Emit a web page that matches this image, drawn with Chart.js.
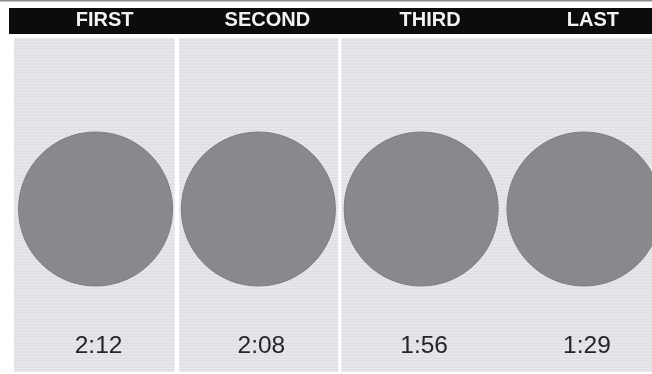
<!DOCTYPE html>
<html><head><meta charset="utf-8">
<script src="https://cdn.jsdelivr.net/npm/chart.js@4"></script>
<style>html,body{margin:0;padding:0;background:#fff}#wrap{width:652px;height:374px;position:relative}</style>
</head><body><div id="wrap"><canvas id="c" width="652" height="374"></canvas></div>
<script>
// Data
const categories = ['FIRST', 'SECOND', 'THIRD', 'LAST'];
const times = ['2:12', '2:08', '1:56', '1:29'];
const seconds = [132, 128, 116, 89];
// panel dividers sit between these category pairs
const dividers = [0.5, 1.5];

const FONT = '"Liberation Sans", Arial, sans-serif';

const decor = {
  id: 'decor',
  beforeDraw(chart) {
    const ctx = chart.ctx, x = chart.scales.x, W = chart.width, H = chart.height;
    ctx.save();
    ctx.fillStyle = '#ffffff';
    ctx.fillRect(0, 0, W, H);
    // top thin grey rule
    ctx.fillStyle = '#8c8c8c';
    ctx.fillRect(0, 0, W, 1.5);
    // black header bar
    ctx.fillStyle = '#0c0c0c';
    ctx.fillRect(9, 8, W - 9, 26);
    // panel background
    ctx.fillStyle = '#e1e0e7';
    ctx.fillRect(14, 38, W - 14, 334);
    // faint horizontal texture
    ctx.fillStyle = 'rgba(255,255,255,0.25)';
    for (let yy = 38; yy < 372; yy += 3) ctx.fillRect(14, yy, W - 14, 1);
    // white gaps between panels
    ctx.fillStyle = '#ffffff';
    dividers.forEach((d, i) => {
      const px = x.getPixelForValue(d);
      const w = i === 0 ? 4.5 : 3;
      ctx.fillRect(px - w / 2, 38, w, 334);
    });
    // header labels
    ctx.fillStyle = '#f2f2f2';
    ctx.font = 'bold 20px ' + FONT;
    ctx.textAlign = 'center';
    ctx.textBaseline = 'middle';
    categories.forEach((c, i) => {
      ctx.fillText(c, x.getPixelForValue(i) + 9, 20);
    });
    ctx.restore();
  },
  afterDatasetsDraw(chart) {
    const ctx = chart.ctx, x = chart.scales.x;
    ctx.save();
    ctx.fillStyle = '#262626';
    ctx.font = '24.5px ' + FONT;
    ctx.textAlign = 'center';
    ctx.textBaseline = 'middle';
    times.forEach((t, i) => {
      ctx.fillText(t, x.getPixelForValue(i) + 3, 346);
    });
    ctx.restore();
  }
};

new Chart(document.getElementById('c'), {
  type: 'scatter',
  data: {
    datasets: [{
      label: 'Time',
      data: seconds.map((s, i) => ({ x: i, y: 0, t: s })),
      pointRadius: 77,
      pointHoverRadius: 77,
      pointBackgroundColor: '#8a878d',
      pointBorderColor: '#7e7b82',
      pointBorderWidth: 1,
      clip: false
    }]
  },
  options: {
    responsive: false,
    animation: false,
    devicePixelRatio: 1,
    layout: { padding: 0, autoPadding: false },
    plugins: { legend: { display: false }, tooltip: { enabled: false } },
    scales: {
      x: { type: 'linear', display: false, min: -0.587, max: 3.418 },
      y: { type: 'linear', display: false, min: -1, max: 1.2666 }
    }
  },
  plugins: [decor]
});
</script>
</body></html>
